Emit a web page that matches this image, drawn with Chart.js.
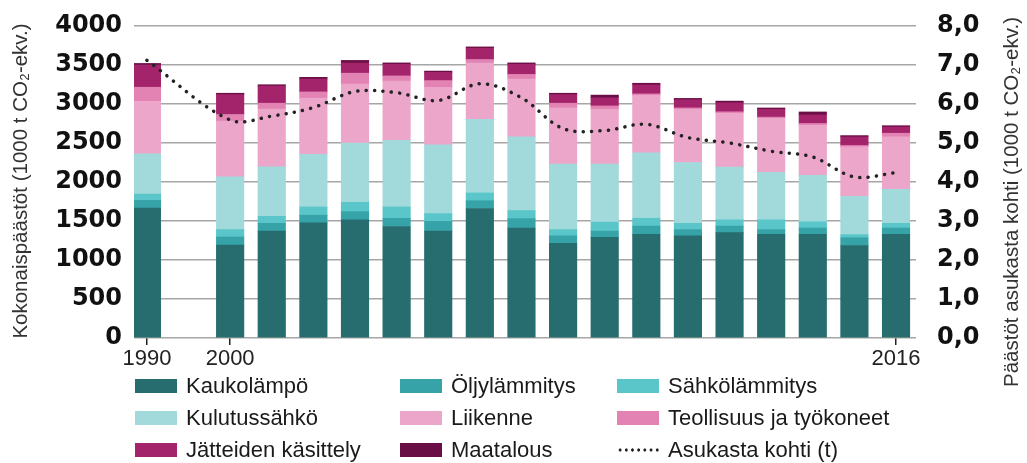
<!DOCTYPE html>
<html>
<head>
<meta charset="utf-8">
<script src="https://cdn.jsdelivr.net/npm/chart.js@4"></script>
<style>
  body { margin: 0; background: #fff; }
  #wrap { position: relative; width: 1027px; height: 463px; }
  #legend { position: absolute; left: 0; top: 0; font: 22px "Liberation Sans", Arial, sans-serif; color: #1a1a1a; }
  .item { position: absolute; white-space: nowrap; display: flex; align-items: center; height: 30px; }
  .swatch { width: 42px; height: 14px; margin-right: 9px; }
  .dots { width: 42px; height: 4px; margin-right: 9px;
          background-image: radial-gradient(circle, #222 1.4px, transparent 1.8px);
          background-size: 6.2px 4px; }
</style>
</head>
<body>
<div id="wrap">
  <canvas id="chart" width="1027" height="463"></canvas>
  <div id="legend"></div>
</div>
<script>
// x positions: 1990 -> 0, one empty slot, 2000..2016 -> 2..18
const years = [1990, 2000, 2001, 2002, 2003, 2004, 2005, 2006, 2007, 2008, 2009, 2010, 2011, 2012, 2013, 2014, 2015, 2016];
const slots = [0, 2, 3, 4, 5, 6, 7, 8, 9, 10, 11, 12, 13, 14, 15, 16, 17, 18];
const tickSlots = [0, 2, 18];

// emissions, 1000 t CO2-ekv.
const kaukolampo = [1665, 1190, 1370, 1475, 1515, 1430, 1370, 1660, 1410, 1215, 1290, 1330, 1310, 1350, 1330, 1330, 1185, 1330];
const oljylammitys = [100, 105, 100, 100, 105, 105, 125, 100, 120, 95, 80, 105, 80, 85, 60, 80, 100, 80];
const sahkolammitys = [80, 95, 90, 105, 120, 145, 100, 100, 105, 80, 115, 100, 80, 80, 125, 80, 40, 60];
const kulutussahko = [515, 675, 635, 675, 760, 855, 880, 945, 945, 840, 745, 840, 780, 675, 610, 595, 490, 435];
const liikenne = [675, 715, 740, 720, 755, 760, 740, 720, 740, 720, 700, 735, 680, 690, 690, 640, 635, 675];
const teollisuus = [180, 85, 75, 80, 140, 65, 85, 45, 60, 60, 45, 20, 20, 20, 17, 25, 18, 45];
const jatteet = [285, 255, 220, 165, 130, 150, 105, 145, 130, 110, 105, 115, 105, 115, 100, 110, 110, 80];
const maatalous = [20, 18, 17, 22, 34, 17, 17, 17, 17, 18, 34, 21, 17, 22, 17, 38, 17, 17];

// per capita, t
const asukastaKohti = [7.12, 5.59, 5.69, 5.91, 6.32, 6.29, 6.09, 6.52, 6.16, 5.37, 5.32, 5.48, 5.14, 5.0, 4.79, 4.64, 4.13, 4.24];

const leftTicks = [0, 500, 1000, 1500, 2000, 2500, 3000, 3500, 4000];
const rightTicks = [0, 1, 2, 3, 4, 5, 6, 7, 8];

const leftTitle = 'Kokonaispäästöt (1000 t CO₂-ekv.)';
const rightTitle = 'Päästöt asukasta kohti (1000 t CO₂-ekv.)';

const series = [
  { label: 'Kaukolämpö', data: kaukolampo, color: '#276d6f' },
  { label: 'Öljylämmitys', data: oljylammitys, color: '#36a3a9' },
  { label: 'Sähkölämmitys', data: sahkolammitys, color: '#5bc6ca' },
  { label: 'Kulutussähkö', data: kulutussahko, color: '#a2dadb' },
  { label: 'Liikenne', data: liikenne, color: '#eca6c9' },
  { label: 'Teollisuus ja työkoneet', data: teollisuus, color: '#e283b3' },
  { label: 'Jätteiden käsittely', data: jatteet, color: '#a3246b' },
  { label: 'Maatalous', data: maatalous, color: '#6a0f45' }
];
const lineLabel = 'Asukasta kohti (t)';

function toPoints(values) {
  return values.map((v, i) => ({ x: slots[i], y: v }));
}

const datasets = series.map(s => ({
  type: 'bar',
  label: s.label,
  data: toPoints(s.data),
  backgroundColor: s.color,
  borderWidth: 0,
  barThickness: 27.5,
  yAxisID: 'y',
  order: 1
}));

datasets.push({
  type: 'line',
  label: lineLabel,
  data: toPoints(asukastaKohti),
  yAxisID: 'y2',
  borderColor: '#222',
  borderWidth: 3.5,
  borderDash: [0.1, 8.3],
  borderCapStyle: 'round',
  pointRadius: 0,
  tension: 0.35,
  fill: false,
  order: 0
});

// rotated axis titles drawn straight on the canvas
const axisTitles = {
  id: 'axisTitles',
  afterDraw(chart) {
    const ctx = chart.ctx;
    ctx.save();
    ctx.fillStyle = '#333';
    ctx.font = '20.5px "Liberation Sans", Arial, sans-serif';
    ctx.textAlign = 'center';
    ctx.textBaseline = 'middle';
    ctx.save();
    ctx.translate(21, 181);
    ctx.rotate(-Math.PI / 2);
    ctx.fillText(leftTitle, 0, 0);
    ctx.restore();
    ctx.translate(1012, 202);
    ctx.rotate(-Math.PI / 2);
    ctx.fillText(rightTitle, 0, 0);
    ctx.restore();
  }
};

const tickFont = { family: '"DejaVu Sans", sans-serif', size: 24, weight: 'bold' };

// fixed side widths, and no extra label padding so the plot top sits at 26px
function fitSide(width) {
  return scale => {
    scale.width = width;
    scale.paddingTop = 0;
    scale.paddingBottom = 0;
  };
}

new Chart(document.getElementById('chart'), {
  data: { datasets: datasets },
  plugins: [axisTitles],
  options: {
    responsive: false,
    animation: false,
    layout: { padding: { top: 26, left: 0, right: 0, bottom: 0 } },
    plugins: {
      legend: { display: false },
      tooltip: { enabled: false }
    },
    scales: {
      x: {
        type: 'linear',
        min: -0.31,
        max: 18.48,
        offset: false,
        stacked: true,
        afterBuildTicks: scale => { scale.ticks = tickSlots.map(v => ({ value: v })); },
        afterFit: scale => { scale.height = 125; },
        ticks: {
          autoSkip: false,
          maxRotation: 0,
          padding: 1,
          color: '#222',
          font: { family: '"Liberation Sans", Arial, sans-serif', size: 22 },
          callback: value => {
            const i = slots.indexOf(value);
            return i >= 0 ? String(years[i]) : '';
          }
        },
        grid: {
          drawOnChartArea: false,
          drawTicks: true,
          tickLength: 7,
          color: '#222',
          lineWidth: 1.5,
          offset: false
        },
        border: { display: false }
      },
      y: {
        position: 'left',
        stacked: true,
        min: 0,
        max: 4000,
        afterBuildTicks: scale => { scale.ticks = leftTicks.map(v => ({ value: v })); },
        afterFit: fitSide(134),
        ticks: {
          padding: 12,
          color: '#111',
          font: tickFont,
          callback: value => String(value)
        },
        grid: {
          color: '#a6a6a6',
          lineWidth: 1.5,
          drawTicks: false
        },
        border: { display: false }
      },
      y2: {
        position: 'right',
        min: 0,
        max: 8,
        afterBuildTicks: scale => { scale.ticks = rightTicks.map(v => ({ value: v })); },
        afterFit: fitSide(111),
        ticks: {
          padding: 21,
          color: '#111',
          font: tickFont,
          callback: value => value.toFixed(1).replace('.', ',')
        },
        grid: { display: false, drawTicks: false },
        border: { display: false }
      }
    }
  }
});

// html legend, three columns like the original
const legendCols = [135, 400, 617];
const legendRows = [386, 418, 450];
const legendEl = document.getElementById('legend');
const legendItems = series.map(s => ({ label: s.label, color: s.color })).concat([{ label: lineLabel, dotted: true }]);
legendItems.forEach((item, i) => {
  const div = document.createElement('div');
  div.className = 'item';
  div.style.left = legendCols[i % 3] + 'px';
  div.style.top = (legendRows[Math.floor(i / 3)] - 15) + 'px';
  const mark = document.createElement('span');
  if (item.dotted) {
    mark.className = 'dots';
  } else {
    mark.className = 'swatch';
    mark.style.background = item.color;
  }
  div.appendChild(mark);
  const text = document.createElement('span');
  text.textContent = item.label;
  div.appendChild(text);
  legendEl.appendChild(div);
});
</script>
</body>
</html>
